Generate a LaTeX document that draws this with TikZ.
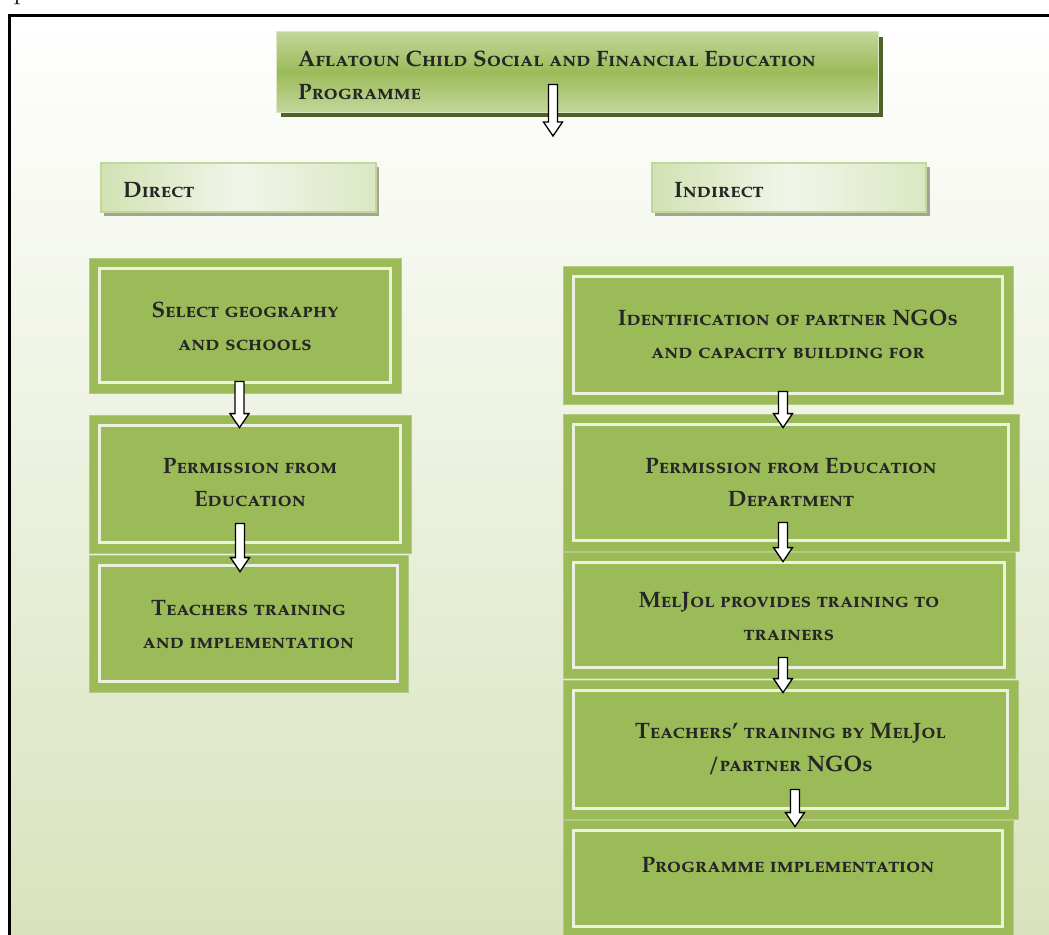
\documentclass[tikz,border=0pt]{standalone}
\usepackage{fontspec}
\setmainfont{texgyrepagella}[Extension=.otf, UprightFont=*-regular, BoldFont=*-bold, ItalicFont=*-italic, BoldItalicFont=*-bolditalic]
\usetikzlibrary{calc,fit}
\definecolor{boxgreen}{HTML}{9BBB59}
\definecolor{lightline}{HTML}{EBF1DE}
\definecolor{titlelight}{HTML}{C3D69B}
\definecolor{shadowgreen}{HTML}{4F6228}
\definecolor{bgbottom}{HTML}{D8E3BD}
\definecolor{txt}{HTML}{262626}
\definecolor{hdrA}{HTML}{D2E2B3}
\definecolor{hdrB}{HTML}{F1F5E9}
\definecolor{hdrshadow}{HTML}{A4A492}
\newcommand\blockarrow[2]{%
  \draw[blockarr] let \p1=(#1), \p2=(#2) in
   (\x1-4.5pt,\y1) -- (\x1+4.5pt,\y1) -- (\x1+4.5pt,\y2+14pt) -- (\x1+9.5pt,\y2+14pt)
   -- (\x1,\y2) -- (\x1-9.5pt,\y2+14pt) -- (\x1-4.5pt,\y2+14pt) -- cycle;}
\begin{document}
\begin{tikzpicture}[x=1pt,y=-1pt,
  lbl/.style={font=\fontsize{22.3}{33}\selectfont\bfseries\scshape, text=txt, align=center, inner sep=0pt},
  greenbox/.style={fill=boxgreen, inner sep=0pt, draw=boxgreen!75!white, line width=0.8pt,
     path picture={\draw[lightline, line width=3.5pt]
       ([xshift=10.5pt,yshift=-10.5pt]path picture bounding box.north west) rectangle
       ([xshift=-10.5pt,yshift=10.5pt]path picture bounding box.south east);}},
  titlebox/.style={inner sep=0pt, top color=titlelight, bottom color=titlelight, middle color=boxgreen,
     draw=titlelight!60!white, line width=1pt},
  hdrbox/.style={inner sep=0pt, draw=titlelight, line width=1.2pt,
     left color=hdrA, right color=hdrA!70!hdrB, middle color=hdrB},
  blockarr/.style={fill=white, draw=black, line width=1.3pt, line join=miter}
]
\useasboundingbox (0,0) rectangle (1049,934);
\clip (0,0) rectangle (1049,934);
\fill[white] (0,0) rectangle (1049,934);
\node[lbl, anchor=base west, font=\fontsize{22.3}{33}\selectfont] (cap) at (14,-1) {p};
\fill[top color=white, bottom color=bgbottom] (10,16) rectangle (1060,934);
\draw[line width=2.5pt] (9.7,15.7) rectangle (1080,980);

% title
\fill[shadowgreen] (281,37) rectangle (883,117);
\node[titlebox, fit={(276,32) (878,112)}] (title) {};
\node[lbl, align=left, anchor=west] (titletext) at (298,75.5) {Aflatoun Child Social and Financial Education\\Programme};
\coordinate (split) at (553,136);

% headers
\fill[hdrshadow] (104,167) rectangle (379,216);
\node[hdrbox, fit={(101,163) (376,212)}] (direct) {};
\node[lbl, anchor=west] (directtext) at (123,190) {Direct};
\fill[hdrshadow] (655,167) rectangle (930,216);
\node[hdrbox, fit={(652,163) (926,212)}] (indirect) {};
\node[lbl, anchor=west] (indirecttext) at (674,190) {Indirect};

% left column
\node[greenbox, fit={(89,258) (401,393)}] (L1) {};
\node[lbl] (L1text) at ($(L1)+(0,1)$) {Select geography\\and schools};
\node[greenbox, fit={(89,415) (411,553)}] (L2) {};
\node[lbl] (L2text) at ($(L2)+(0,-1.5)$) {Permission from\\Education};
\node[greenbox, fit={(89,555) (408,692)}] (L3) {};
\node[lbl] (L3text) at ($(L3)+(0,1)$) {Teachers training\\and implementation};

% right column
\node[greenbox, fit={(563,266) (1013,404)}] (R1) {};
\node[lbl] (R1text) at ($(R1)+(0,-0.5)$) {Identification of partner NGOs\\and capacity building for};
\node[greenbox, fit={(563,414) (1019,551)}] (R2) {};
\node[lbl] (R2text) at (R2) {Permission from Education\\Department};
\node[greenbox, fit={(563,552) (1015,678)}] (R3) {};
\node[lbl] (R3text) at ($(R3)+(0,1.5)$) {MelJol provides training to\\trainers};
\node[greenbox, fit={(563,680) (1018,819)}] (R4) {};
\node[lbl] (R4text) at ($(R4)+(0,-1)$) {Teachers’ training by MelJol\\/partner NGOs};
\node[greenbox, fit={(563,820) (1013,937)}] (R5) {};
\node[lbl] (R5text) at (788,865) {Programme implementation};

% arrows
\blockarrow{$(title.south)+(-24,-28)$}{split}
\blockarrow{$(L1.south)+(-5.5,-12)$}{$(L2.north)+(-10.5,13)$}
\blockarrow{$(L2.south)+(-10,-30)$}{$(L3.north)+(-8.5,17)$}
\blockarrow{$(R1.south)+(-5,-13)$}{$(R2.north)+(-8,14)$}
\blockarrow{$(R2.south)+(-8,-29)$}{$(R3.north)+(-6,10)$}
\blockarrow{$(R3.south)+(-6,-21)$}{$(R4.north)+(-7.5,13)$}
\blockarrow{$(R4.south)+(4.5,-30)$}{$(R5.north)+(7,7)$}
\end{tikzpicture}
\end{document}
